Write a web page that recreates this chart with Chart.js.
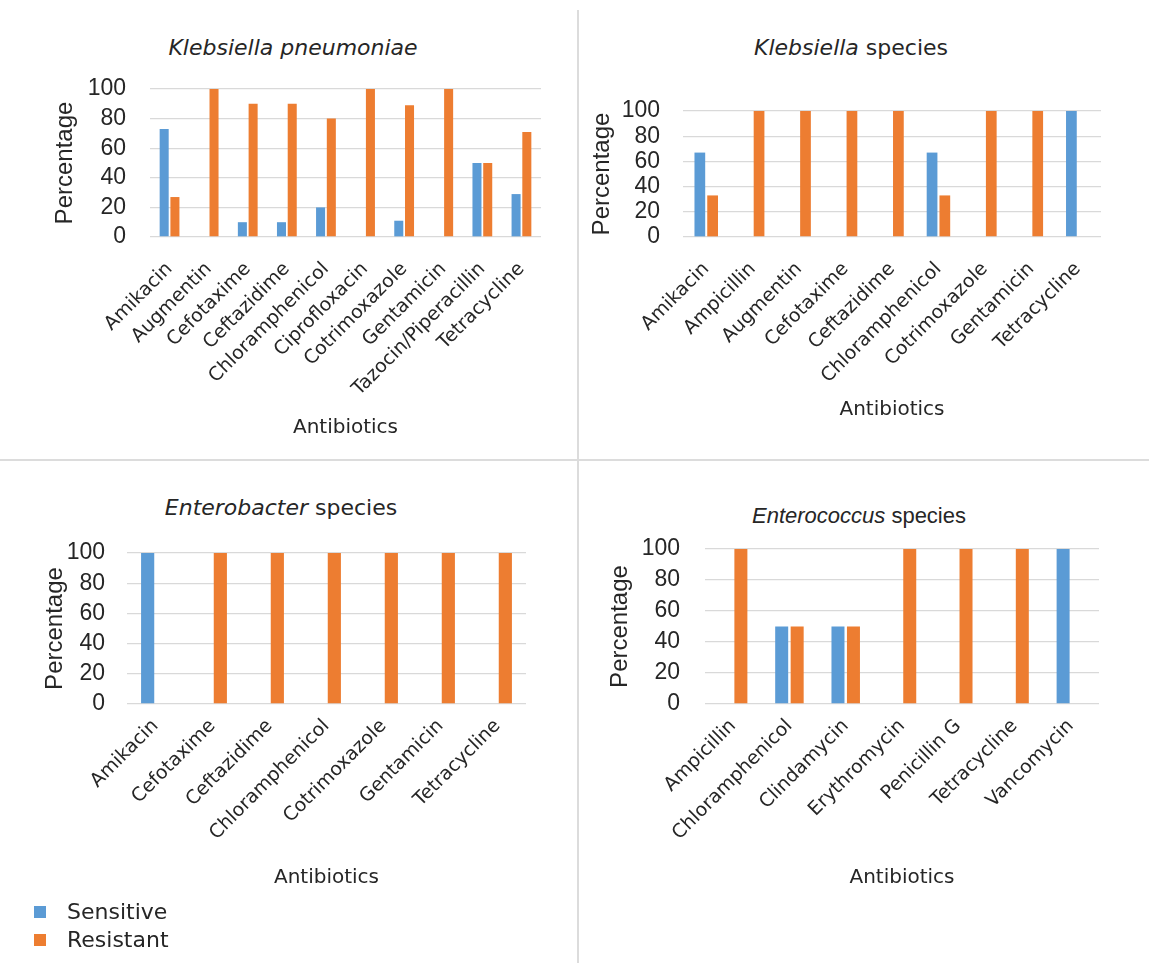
<!DOCTYPE html>
<html>
<head>
<meta charset="utf-8">
<script src="https://cdn.jsdelivr.net/npm/chart.js@4"></script>
<style>
  body { margin: 0; background: #fff; }
  #page { position: relative; width: 1149px; height: 963px; overflow: hidden; }
  .box { position: absolute; }
  .title { position: absolute; transform: translate(-50%, -50%); white-space: nowrap;
           font-family: "DejaVu Sans", sans-serif; font-size: 22px; color: #262626; }
  .vline { position: absolute; left: 577px; top: 10px; width: 2px; height: 953px; background: #dcdcdc; }
  .hline { position: absolute; left: 0; top: 459px; width: 1149px; height: 2px; background: #dcdcdc; }
  #legend { position: absolute; left: 34px; top: 898px; font-family: "DejaVu Sans", sans-serif;
            font-size: 22px; color: #262626; }
  #legend div { height: 28px; line-height: 28px; position: relative; padding-left: 33px; }
  #legend span { position: absolute; left: 0; top: 8px; width: 12px; height: 12px; }
</style>
</head>
<body>
<div id="page">
  <div class="vline"></div>
  <div class="hline"></div>

  <div class="title" style="left:293px; top:47px;"><i>Klebsiella pneumoniae</i></div>
  <div class="title" style="left:851px; top:47px;"><i>Klebsiella</i> species</div>
  <div class="title" style="left:281px; top:507px;"><i>Enterobacter</i> species</div>
  <div class="title" style="left:859px; top:516px; font-family:'Liberation Sans',sans-serif; font-size:22px;"><i>Enterococcus</i> species</div>

  <div class="box" style="left:0; top:0; width:578px; height:460px;"><canvas id="c1"></canvas></div>
  <div class="box" style="left:578px; top:0; width:571px; height:460px;"><canvas id="c2"></canvas></div>
  <div class="box" style="left:0; top:460px; width:578px; height:503px;"><canvas id="c3"></canvas></div>
  <div class="box" style="left:578px; top:460px; width:571px; height:503px;"><canvas id="c4"></canvas></div>

  <div id="legend"></div>
</div>

<script>
// series
const seriesNames = ["Sensitive", "Resistant"];
const seriesColors = ["#5B9BD5", "#ED7D31"];
const yTicks = [0, 20, 40, 60, 80, 100];

// Klebsiella pneumoniae
const kpLabels = ["Amikacin", "Augmentin", "Cefotaxime", "Ceftazidime", "Chloramphenicol",
    "Ciprofloxacin", "Cotrimoxazole", "Gentamicin", "Tazocin/Piperacillin", "Tetracycline"];
const kpSensitive = [73, 0, 10, 10, 20, 0, 11, 0, 50, 29];
const kpResistant = [27, 100, 90, 90, 80, 100, 89, 100, 50, 71];

// Klebsiella species
const ksLabels = ["Amikacin", "Ampicillin", "Augmentin", "Cefotaxime", "Ceftazidime",
    "Chloramphenicol", "Cotrimoxazole", "Gentamicin", "Tetracycline"];
const ksSensitive = [67, 0, 0, 0, 0, 67, 0, 0, 100];
const ksResistant = [33, 100, 100, 100, 100, 33, 100, 100, 0];

// Enterobacter species
const ebLabels = ["Amikacin", "Cefotaxime", "Ceftazidime", "Chloramphenicol",
    "Cotrimoxazole", "Gentamicin", "Tetracycline"];
const ebSensitive = [100, 0, 0, 0, 0, 0, 0];
const ebResistant = [0, 100, 100, 100, 100, 100, 100];

// Enterococcus species
const ecLabels = ["Ampicillin", "Chloramphenicol", "Clindamycin", "Erythromycin",
    "Penicillin G", "Tetracycline", "Vancomycin"];
const ecSensitive = [0, 50, 50, 0, 0, 0, 100];
const ecResistant = [100, 50, 50, 100, 100, 100, 0];

const textColor = "#262626";

function makeChart(id, labels, sensitive, resistant, lay) {
    const ctx = document.getElementById(id).getContext("2d");
    return new Chart(ctx, {
        type: "bar",
        data: {
            labels: labels,
            datasets: [
                { label: seriesNames[0], data: sensitive, backgroundColor: seriesColors[0], borderWidth: 0 },
                { label: seriesNames[1], data: resistant, backgroundColor: seriesColors[1], borderWidth: 0 },
            ],
        },
        options: {
            responsive: true,
            maintainAspectRatio: false,
            animation: false,
            categoryPercentage: 0.55,
            barPercentage: 0.84,
            layout: { padding: lay.padding },
            plugins: {
                legend: { display: false },
                tooltip: { enabled: false },
            },
            scales: {
                x: {
                    grid: { display: false, drawTicks: false },
                    border: { display: false },
                    ticks: {
                        autoSkip: false,
                        minRotation: 45,
                        maxRotation: 45,
                        padding: lay.xPad,
                        color: textColor,
                        font: { family: "DejaVu Sans", size: 19 },
                    },
                    title: {
                        display: true,
                        text: "Antibiotics",
                        color: textColor,
                        padding: 0,
                        font: { family: "DejaVu Sans", size: 20, lineHeight: 1.2 },
                    },
                    afterFit: (s) => { s.height = lay.xHeight; },
                },
                y: {
                    min: 0,
                    max: 100,
                    afterBuildTicks: (s) => { s.ticks = yTicks.map((v) => ({ value: v })); },
                    grid: { color: "#d9d9d9", lineWidth: 1.3, drawTicks: false },
                    border: { display: false },
                    ticks: {
                        autoSkip: false,
                        padding: lay.tickPad,
                        color: textColor,
                        font: { family: "Liberation Sans", size: 23 },
                    },
                    title: {
                        display: true,
                        text: "Percentage",
                        color: textColor,
                        padding: 0,
                        font: { family: "Liberation Sans", size: 24, lineHeight: 1.2 },
                    },
                    afterFit: (s) => { s.width = lay.yWidth; },
                },
            },
        },
    });
}

makeChart("c1", kpLabels, kpSensitive, kpResistant,
    { padding: { left: 51, right: 37, top: 89, bottom: 20 }, yWidth: 99, xHeight: 203, tickPad: 24, xPad: 21 });
makeChart("c2", ksLabels, ksSensitive, ksResistant,
    { padding: { left: 10, right: 48, top: 111, bottom: 38 }, yWidth: 95, xHeight: 185, tickPad: 23, xPad: 21 });
makeChart("c3", ebLabels, ebSensitive, ebResistant,
    { padding: { left: 41, right: 52, top: 93, bottom: 73 }, yWidth: 86, xHeight: 186, tickPad: 22, xPad: 11 });
makeChart("c4", ecLabels, ecSensitive, ecResistant,
    { padding: { left: 28, right: 50, top: 89, bottom: 73 }, yWidth: 99, xHeight: 186, tickPad: 25, xPad: 11 });

// legend built from the series
const legend = document.getElementById("legend");
seriesNames.forEach((name, i) => {
    const row = document.createElement("div");
    const sw = document.createElement("span");
    sw.style.background = seriesColors[i];
    row.appendChild(sw);
    row.appendChild(document.createTextNode(name));
    legend.appendChild(row);
});
</script>
</body>
</html>
